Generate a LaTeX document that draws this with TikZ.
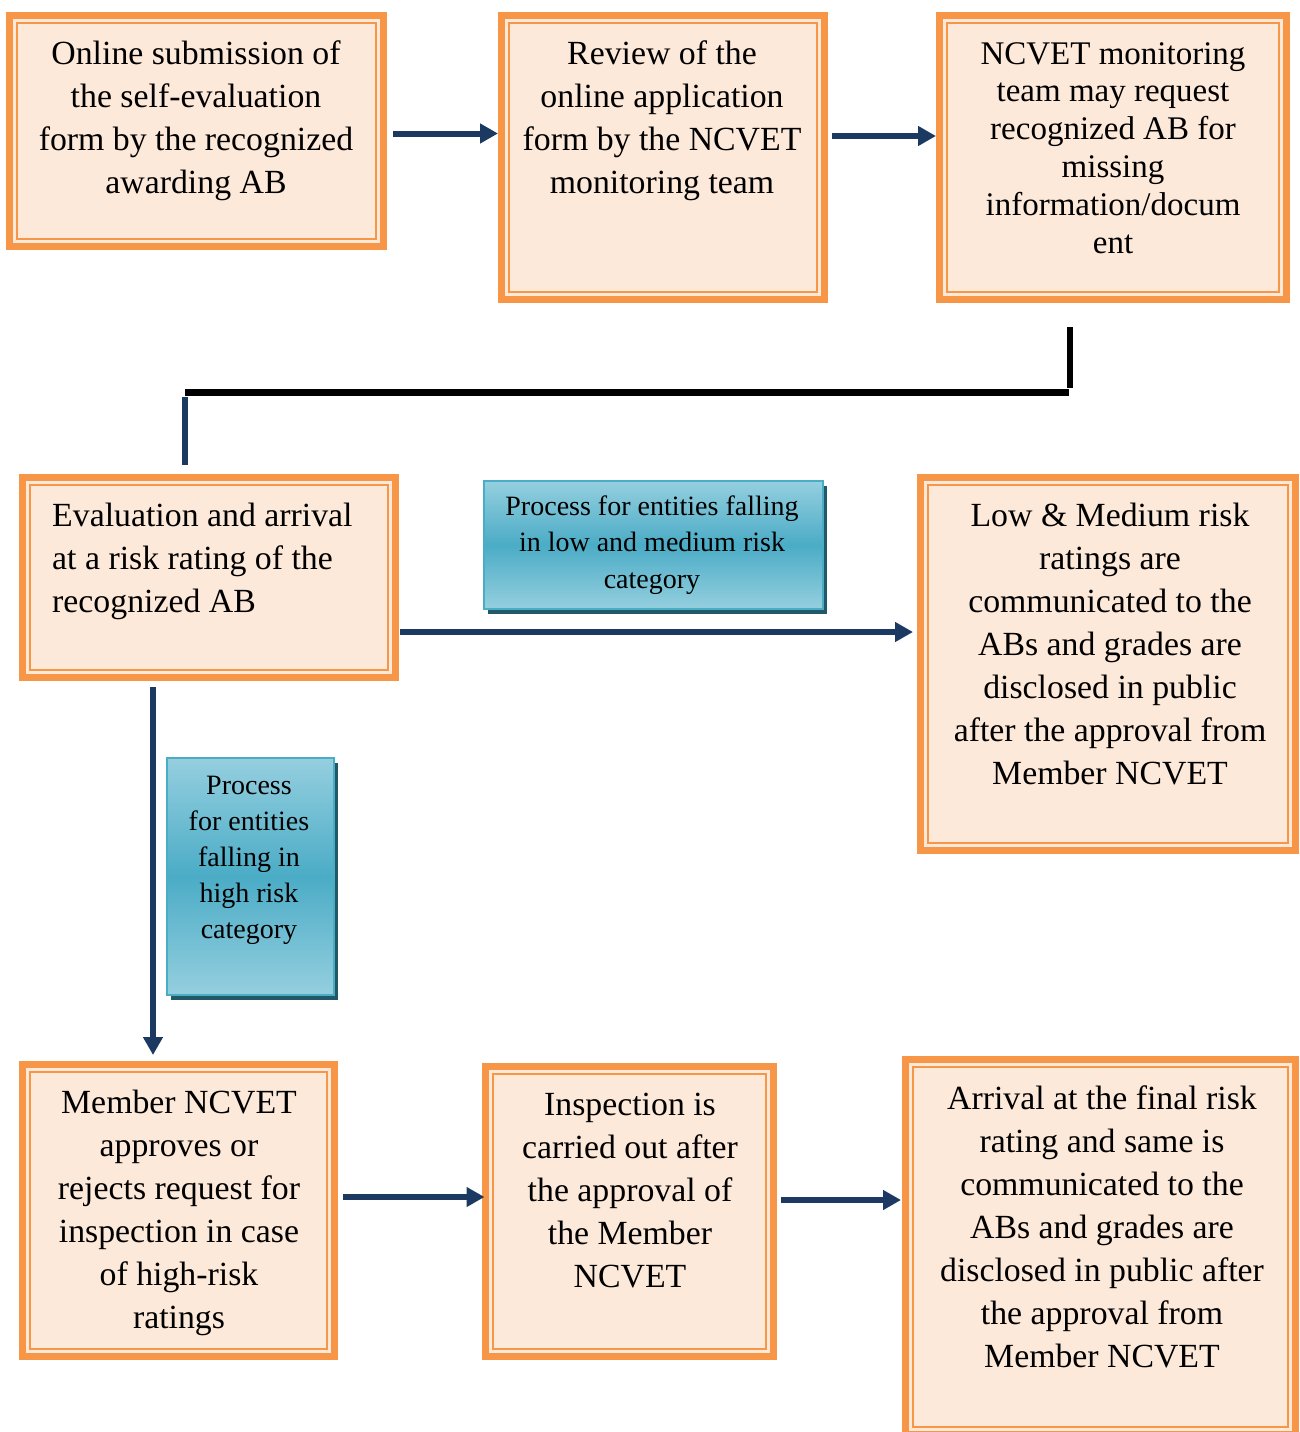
\documentclass[tikz,border=0pt]{standalone}
\usepackage{fontspec}
\setmainfont{Liberation Serif}
\usetikzlibrary{arrows.meta,shadows,calc}
\definecolor{ora}{HTML}{F79646}
\definecolor{peach}{HTML}{FDE9D9}
\definecolor{navy}{HTML}{1C3A61}
\definecolor{tealb}{HTML}{4BACC6}
\definecolor{tealL}{HTML}{95CFDF}
\definecolor{shad}{HTML}{215968}
\tikzset{
  obox/.style={draw=ora, line width=7pt, fill=peach, anchor=north west, inner sep=0pt, outer sep=0pt},
  innerline/.style={draw=ora, line width=2pt},
  lbox/.style={draw=tealb, line width=2pt, anchor=north west, inner sep=0pt,
    top color=tealL, bottom color=tealL, middle color=tealb,
    drop shadow={shadow xshift=4pt, shadow yshift=-5pt, fill=shad, opacity=1}},
  txt/.style={font=\fontsize{33.8}{43}\selectfont, align=center, inner sep=0pt, anchor=base},
  ltxt/.style={font=\fontsize{28}{36.3}\selectfont, align=center, inner sep=0pt, anchor=base},
  arr/.style={draw=navy, line width=6pt, -{Triangle[length=18pt,width=19pt]}},
  elbow/.style={line width=6pt},
}
\begin{document}
\begin{tikzpicture}[x=1pt,y=-1pt]
\clip (0,0) rectangle (1299,1432);
% boxes
\node[obox, minimum width=374pt, minimum height=231pt] (b1) at (9.5,15.5) {};
\node[obox, minimum width=323pt, minimum height=284pt] (b2) at (501.5,15.5) {};
\node[obox, minimum width=347pt, minimum height=284pt] (b3) at (939.5,15.5) {};
\node[obox, minimum width=373pt, minimum height=200pt] (b4) at (22.5,477.5) {};
\node[obox, minimum width=375pt, minimum height=373pt] (b5) at (920.5,477.5) {};
\node[obox, minimum width=312pt, minimum height=292pt] (b6) at (22.5,1064.5) {};
\node[obox, minimum width=288pt, minimum height=290pt] (b7) at (485.5,1066.5) {};
\node[obox, minimum width=390pt, minimum height=375pt] (b8) at (905.5,1059.5) {};
\foreach \n in {b1,b2,b3,b4,b5,b6,b7,b8}
  \draw[innerline] ([shift={(7.5,7.5)}]\n.north west) rectangle ([shift={(-7.5,-7.5)}]\n.south east);
% label boxes
\node[lbox, minimum width=339pt, minimum height=128pt] (l1) at (483,480) {};
\node[lbox, minimum width=167pt, minimum height=237pt] (l2) at (166,757) {};
% texts (anchor base = baseline of the last line)
\node[txt] (t1) at (196,193) {Online submission of\\the self-evaluation\\form by the recognized\\awarding AB};
\node[txt] (t2) at (662,193) {Review of the\\online application\\form by the NCVET\\monitoring team};
\node[txt, font=\fontsize{33}{37.8}\selectfont] (t3) at (1113,253) {NCVET monitoring\\team may request\\recognized AB for\\missing\\information/docum\\ent};
\node[txt, align=left, anchor=base west] (t4) at (52,612) {Evaluation and arrival\\at a risk rating of the\\recognized AB};
\node[ltxt] (tl1) at (652,588) {Process for entities falling\\in low and medium risk\\category};
\node[txt] (t5) at (1110,784) {Low \& Medium risk\\ratings are\\communicated to the\\ABs and grades are\\disclosed in public\\after the approval from\\Member NCVET};
\node[ltxt, font=\fontsize{28}{36}\selectfont] (tl2) at (249,938) {Process\\for entities\\falling in\\high risk\\category};
\node[txt] (t6) at (179,1328) {Member NCVET\\approves or\\rejects request for\\inspection in case\\of high-risk\\ratings};
\node[txt] (t7) at (630,1287) {Inspection is\\carried out after\\the approval of\\the Member\\NCVET};
\node[txt] (t8) at (1102,1367) {Arrival at the final risk\\rating and same is\\communicated to the\\ABs and grades are\\disclosed in public after\\the approval from\\Member NCVET};
% arrows
\draw[arr, shorten >=3.5pt] ([xshift=9.5pt,yshift=-2.5pt]b1.east) coordinate (a1) -- (a1 -| b2.west);
\draw[arr, shorten >=3.5pt] ([xshift=7.5pt,yshift=21.5pt]b2.east) coordinate (a2) -- (a2 -| b3.west);
\draw[arr, shorten >=7.5pt] ([xshift=4.5pt,yshift=-54.5pt]b4.east) coordinate (a3) -- (a3 -| b5.west);
\coordinate (v1) at (153,687);
\draw[arr, shorten >=9.5pt] (v1) -- (v1 |- b6.north);
\draw[arr, shorten >=1pt] ([xshift=8.5pt,yshift=13.5pt]b6.east) coordinate (a4) -- (a4 -| b7.west);
\draw[arr, shorten >=4.5pt] ([xshift=7.5pt,yshift=11.5pt]b7.east) coordinate (a5) -- (a5 -| b8.west);
% elbow connector from b3 to b4
\coordinate (k1) at (1070,327);
\coordinate (k2) at (1070,388);
\coordinate (k3) at (1069,392.5);
\coordinate (k4) at (185,392.5);
\coordinate (k5) at (184.5,397);
\coordinate (k6) at (184.5,465);
\draw[elbow, black] (k1) -- (k2);
\draw[elbow, black, line width=6.5pt] (k3) -- (k4);
\draw[elbow, navy] (k5) -- (k6);
\end{tikzpicture}
\end{document}
